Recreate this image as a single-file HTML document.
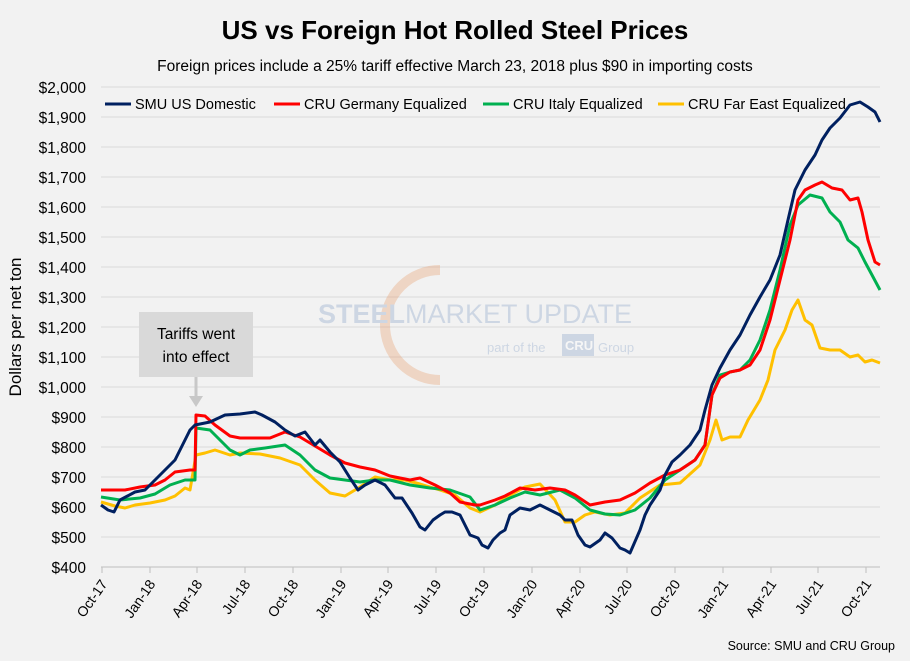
<!DOCTYPE html>
<html><head><meta charset="utf-8"><style>
body{margin:0;background:#f2f2f2;}
svg{display:block;font-family:"Liberation Sans",Calibri,sans-serif;}
</style></head><body>
<svg width="910" height="661" viewBox="0 0 910 661" xmlns="http://www.w3.org/2000/svg">
<rect width="910" height="661" fill="#f2f2f2"/>
<text x="455" y="39" text-anchor="middle" font-size="26" font-weight="bold" fill="#000">US vs Foreign Hot Rolled Steel Prices</text>
<text x="455" y="71" text-anchor="middle" font-size="15.5" fill="#000">Foreign prices include a 25% tariff effective March 23, 2018 plus $90 in importing costs</text>
<g stroke="#d9d9d9" stroke-width="1">
<line x1="101" x2="880" y1="87" y2="87"/><line x1="101" x2="880" y1="117" y2="117"/><line x1="101" x2="880" y1="147" y2="147"/><line x1="101" x2="880" y1="177" y2="177"/><line x1="101" x2="880" y1="207" y2="207"/><line x1="101" x2="880" y1="237" y2="237"/><line x1="101" x2="880" y1="267" y2="267"/><line x1="101" x2="880" y1="297" y2="297"/><line x1="101" x2="880" y1="327" y2="327"/><line x1="101" x2="880" y1="357" y2="357"/><line x1="101" x2="880" y1="387" y2="387"/><line x1="101" x2="880" y1="417" y2="417"/><line x1="101" x2="880" y1="447" y2="447"/><line x1="101" x2="880" y1="477" y2="477"/><line x1="101" x2="880" y1="507" y2="507"/><line x1="101" x2="880" y1="537" y2="537"/>
</g>
<line x1="101" x2="880" y1="567" y2="567" stroke="#bfbfbf"/>
<g stroke="#bfbfbf">
<line x1="102" x2="102" y1="567" y2="573"/><line x1="150" x2="150" y1="567" y2="573"/><line x1="197" x2="197" y1="567" y2="573"/><line x1="245" x2="245" y1="567" y2="573"/><line x1="293" x2="293" y1="567" y2="573"/><line x1="341" x2="341" y1="567" y2="573"/><line x1="388" x2="388" y1="567" y2="573"/><line x1="436" x2="436" y1="567" y2="573"/><line x1="484" x2="484" y1="567" y2="573"/><line x1="532" x2="532" y1="567" y2="573"/><line x1="580" x2="580" y1="567" y2="573"/><line x1="627" x2="627" y1="567" y2="573"/><line x1="675" x2="675" y1="567" y2="573"/><line x1="723" x2="723" y1="567" y2="573"/><line x1="771" x2="771" y1="567" y2="573"/><line x1="818" x2="818" y1="567" y2="573"/><line x1="866" x2="866" y1="567" y2="573"/>
</g>
<g font-size="15.5" text-anchor="end" fill="#000">
<text x="86" y="93">$2,000</text><text x="86" y="123">$1,900</text><text x="86" y="153">$1,800</text><text x="86" y="183">$1,700</text><text x="86" y="213">$1,600</text><text x="86" y="243">$1,500</text><text x="86" y="273">$1,400</text><text x="86" y="303">$1,300</text><text x="86" y="333">$1,200</text><text x="86" y="363">$1,100</text><text x="86" y="393">$1,000</text><text x="86" y="423">$900</text><text x="86" y="453">$800</text><text x="86" y="483">$700</text><text x="86" y="513">$600</text><text x="86" y="543">$500</text><text x="86" y="573">$400</text>
</g>
<g font-size="14" text-anchor="end" fill="#000">
<text transform="translate(108,584) rotate(-55)">Oct-17</text><text transform="translate(156,584) rotate(-55)">Jan-18</text><text transform="translate(203,584) rotate(-55)">Apr-18</text><text transform="translate(251,584) rotate(-55)">Jul-18</text><text transform="translate(299,584) rotate(-55)">Oct-18</text><text transform="translate(347,584) rotate(-55)">Jan-19</text><text transform="translate(394,584) rotate(-55)">Apr-19</text><text transform="translate(442,584) rotate(-55)">Jul-19</text><text transform="translate(490,584) rotate(-55)">Oct-19</text><text transform="translate(538,584) rotate(-55)">Jan-20</text><text transform="translate(586,584) rotate(-55)">Apr-20</text><text transform="translate(633,584) rotate(-55)">Jul-20</text><text transform="translate(681,584) rotate(-55)">Oct-20</text><text transform="translate(729,584) rotate(-55)">Jan-21</text><text transform="translate(777,584) rotate(-55)">Apr-21</text><text transform="translate(824,584) rotate(-55)">Jul-21</text><text transform="translate(872,584) rotate(-55)">Oct-21</text>
</g>
<text transform="translate(21,327) rotate(-90)" text-anchor="middle" font-size="17" fill="#000">Dollars per net ton</text>
<text x="895" y="650" text-anchor="end" font-size="12.5" fill="#000">Source: SMU and CRU Group</text>
<!-- watermark -->
<g opacity="0.35">
<path d="M 440 270 A 55 55 0 1 0 440 380" fill="none" stroke="#e8a070" stroke-width="10"/>
<text x="318" y="323" font-size="27" font-weight="bold" fill="#8aa4c8">STEEL</text>
<text x="405" y="323" font-size="27" fill="#8aa4c8">MARKET UPDATE</text>
<text x="487" y="352" font-size="13" fill="#8aa4c8">part of the</text>
<rect x="562" y="334" width="32" height="22" fill="#8aa4c8"/>
<text x="565" y="350" font-size="13" fill="#fff" font-weight="bold">CRU</text>
<text x="598" y="352" font-size="13" fill="#8aa4c8">Group</text>
</g>
<!-- annotation -->
<rect x="139" y="312" width="114" height="65" fill="#d9d9d9"/>
<text x="196" y="339" text-anchor="middle" font-size="15.5" fill="#000">Tariffs went</text>
<text x="196" y="362" text-anchor="middle" font-size="15.5" fill="#000">into effect</text>
<line x1="196" y1="377" x2="196" y2="398" stroke="#c8c8c8" stroke-width="3"/>
<polygon points="189,396 203,396 196,407" fill="#c8c8c8"/>
<g fill="none" stroke-width="3" stroke-linejoin="round">
<polyline stroke="#ffc000" points="101,502 115,506 125,508 135,505 150,503 165,500 175,496 185,488 190,490 196,455 205,453 215,450 230,455 240,453 260,454 280,458 300,465 315,480 330,493 345,496 360,487 375,477 390,480 405,480 420,484 440,490 455,495 470,508 480,512 495,505 510,495 525,487 540,484 555,500 565,522 575,522 585,515 595,512 610,515 625,513 640,498 660,485 680,483 700,465 710,440 716,420 722,440 730,437 740,437 748,420 760,400 768,380 775,350 785,330 792,310 798,300 805,320 812,325 820,348 830,350 840,350 850,357 858,355 865,362 872,360 880,363"/>
<polyline stroke="#00b050" points="101,497 120,500 140,498 155,494 170,485 185,480 195,480 196,428 210,430 220,440 230,450 240,455 250,450 265,448 285,445 300,455 315,470 330,478 345,480 360,482 375,480 390,480 410,485 430,488 450,490 470,497 480,510 495,505 510,498 525,492 540,495 560,490 575,498 590,510 605,514 620,515 635,510 650,498 665,480 680,470 695,460 705,445 712,395 720,375 730,372 740,370 750,360 760,340 770,310 780,270 790,225 798,205 810,195 822,198 830,212 840,222 848,240 858,248 865,262 872,275 880,290"/>
<polyline stroke="#ff0000" points="101,490 115,490 125,490 140,487 155,485 165,480 175,472 190,470 195,470 196,415 205,416 215,425 230,436 240,438 255,438 270,438 285,432 300,437 315,446 330,455 345,463 360,467 375,470 390,476 400,478 410,480 420,478 435,485 450,493 460,502 475,505 480,505 495,500 505,496 520,488 535,490 550,488 565,490 575,495 590,505 605,502 620,500 635,493 650,483 665,475 680,470 695,460 705,445 712,395 720,378 730,372 740,370 750,365 760,350 770,320 780,280 790,240 798,200 805,190 815,185 822,182 832,188 842,190 850,200 858,198 862,212 868,240 875,262 880,265"/>
<polyline stroke="#002060" points="101,505 108,510 114,512 120,500 135,492 145,490 160,475 175,460 185,440 190,430 195,425 200,424 210,422 225,415 240,414 255,412 262,415 275,422 285,430 295,436 305,432 315,445 320,440 330,452 340,462 350,478 358,490 365,485 375,480 385,485 395,498 402,498 412,513 420,527 425,530 433,520 440,515 445,512 452,512 460,515 465,525 470,535 478,538 482,545 488,548 493,540 500,533 505,530 510,515 520,508 530,510 540,505 550,510 560,515 565,520 572,520 578,535 585,545 590,547 600,540 605,533 612,538 620,548 625,550 630,553 640,530 645,515 650,505 660,490 665,475 672,462 680,455 690,445 700,430 705,410 712,385 720,368 730,350 740,335 750,315 760,297 770,280 780,255 788,220 795,190 805,170 815,155 822,140 830,128 840,118 850,105 860,102 868,107 875,112 880,122"/>
</g>
<!-- legend -->
<g font-size="14.5" fill="#000">
<line x1="105" y1="104" x2="131" y2="104" stroke="#002060" stroke-width="3"/><text x="135" y="109">SMU US Domestic</text>
<line x1="274" y1="104" x2="300" y2="104" stroke="#ff0000" stroke-width="3"/><text x="304" y="109">CRU Germany Equalized</text>
<line x1="483" y1="104" x2="509" y2="104" stroke="#00b050" stroke-width="3"/><text x="513" y="109">CRU Italy Equalized</text>
<line x1="658" y1="104" x2="684" y2="104" stroke="#ffc000" stroke-width="3"/><text x="688" y="109">CRU Far East Equalized</text>
</g>
</svg>
</body></html>
